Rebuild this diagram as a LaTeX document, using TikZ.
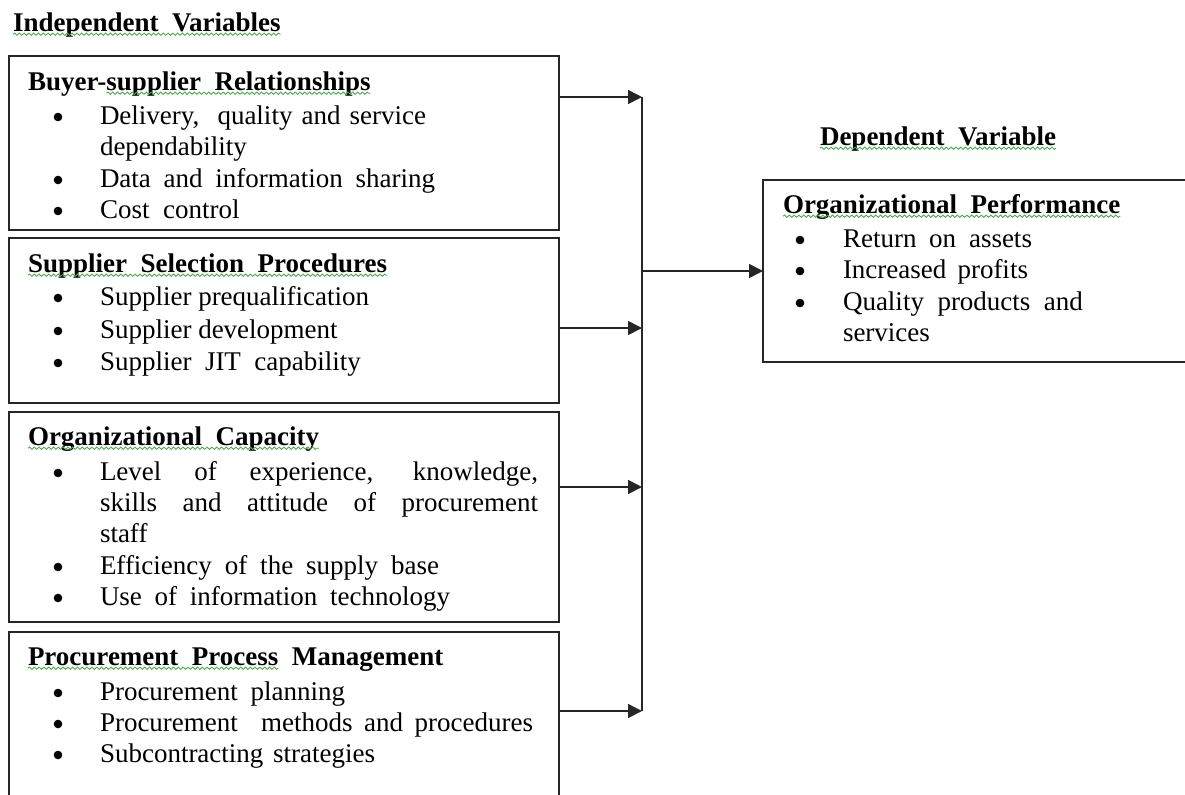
\documentclass[tikz,border=0pt]{standalone}
\usepackage{fontspec}
\setmainfont{Liberation Serif}
\usetikzlibrary{arrows.meta,decorations.pathmorphing}
\newcommand\basefont{\fontsize{13.5pt}{16pt}\selectfont}
% a line of text spread to a given width
\newcommand\spread[2]{\makebox[#1][s]{#2}}
\definecolor{squiggreen}{RGB}{76,170,80}
\begin{document}
\begin{tikzpicture}[x=0.5pt,y=-0.5pt,
  every node/.style={inner sep=0pt, outer sep=0pt, font=\basefont},
  varbox/.style={draw=black!85, line width=0.95pt, anchor=north west, rectangle},
  head/.style={anchor=base west, font=\basefont\bfseries},
  txt/.style={anchor=base west},
  bul/.style={circle, fill=black, minimum size=4.3pt},
  link/.style={draw=black!85, line width=0.8pt},
  arrowlink/.style={link, -{Triangle[length=7pt,width=7pt]}},
  squig/.style={draw=squiggreen, line width=0.45pt, decorate,
    decoration={snake, amplitude=0.55pt, segment length=2.4pt}}
]
\useasboundingbox (0,0) rectangle (1185,794);
\clip (0,0) rectangle (1185,794);

% ---------- column headings ----------
\node[head] (indep) at (13,31) {Independent~~Variables};
\node[head] (dep) at (820,145) {Dependent~~Variable};

% ---------- independent variable boxes ----------
\node[varbox, minimum width=275pt, minimum height=87pt]   (box1) at (9,56)  {};
\node[varbox, minimum width=275pt, minimum height=82.5pt] (box2) at (9,238) {};
\node[varbox, minimum width=275pt, minimum height=105pt]  (box3) at (9,412) {};
\node[varbox, minimum width=275pt, minimum height=90pt]   (box4) at (9,632) {};

% ---------- dependent variable box ----------
\node[varbox, minimum width=220pt, minimum height=91pt] (perf) at (763,180) {};

% Buyer-supplier relationships
\node[head] (h1a) at (28,90) {Buyer-};
\node[head, anchor=base west] (h1b) at (h1a.base east) {supplier~~Relationships};
\node[bul] (d11) at (58,117) {};
\node[txt] (t11) at (100,124) {\spread{163pt}{Delivery,~~quality and service}};
\node[txt] (t11b) at (100,155) {dependability};
\node[bul] (d12) at (58,180) {};
\node[txt] (t12) at (100,187) {\spread{167.5pt}{Data and information sharing}};
\node[bul] (d13) at (58,211) {};
\node[txt] (t13) at (100,218) {Cost~~control};

% Supplier selection procedures
\node[head] (h2) at (28,272) {Supplier~~Selection~~Procedures};
\node[bul] (d21) at (58,298) {};
\node[txt] (t21) at (100,305) {Supplier prequalification};
\node[bul] (d22) at (58,331) {};
\node[txt] (t22) at (100,338) {Supplier development};
\node[bul] (d23) at (58,363) {};
\node[txt] (t23) at (100,370) {Supplier~~JIT~~capability};

% Organizational capacity
\node[head] (h3) at (28,445) {Organizational~~Capacity};
\node[bul] (d31) at (58,473) {};
\node[txt] (t31) at (100,480) {\spread{219pt}{Level of experience, knowledge,}};
\node[txt] (t31b) at (100,511) {\spread{219pt}{skills and attitude of procurement}};
\node[txt] (t31c) at (100,542) {staff};
\node[bul] (d32) at (58,567) {};
\node[txt] (t32) at (100,574) {\spread{169.5pt}{Efficiency of the supply base}};
\node[bul] (d33) at (58,598) {};
\node[txt] (t33) at (100,605) {\spread{175pt}{Use of information technology}};

% Procurement process management
\node[head] (h4a) at (28,665) {Procurement~~Process};
\node[head, anchor=base west] (h4b) at (h4a.base east) {~~Management};
\node[bul] (d41) at (58,693) {};
\node[txt] (t41) at (100,700) {\spread{122.5pt}{Procurement planning}};
\node[bul] (d42) at (58,724) {};
\node[txt] (t42) at (100,731) {\spread{216.5pt}{Procurement~~methods and procedures}};
\node[bul] (d43) at (58,755) {};
\node[txt] (t43) at (100,762) {\spread{137.5pt}{Subcontracting strategies}};

% Organizational performance
\node[head] (h5) at (783,213) {Organizational~~Performance};
\node[bul] (d51) at (800,240) {};
\node[txt] (t51) at (843,247) {\spread{94.5pt}{Return on assets}};
\node[bul] (d52) at (800,271) {};
\node[txt] (t52) at (843,278) {\spread{92.5pt}{Increased profits}};
\node[bul] (d53) at (800,303) {};
\node[txt] (t53) at (843,310) {Quality~~products~~and};
\node[txt] (t53b) at (843,341) {services};

% ---------- spelling squiggles under the headings ----------
\draw[squig] ([yshift=-1.6pt]indep.base west) -- ([yshift=-1.6pt]indep.base east);
\draw[squig] ([yshift=-1.6pt]dep.base west) -- ([yshift=-1.6pt]dep.base east);
\draw[squig] ([yshift=-1.6pt]h1b.base west) -- ([yshift=-1.6pt]h1b.base east);
\draw[squig] ([yshift=-1.6pt]h2.base west) -- ([yshift=-1.6pt]h2.base east);
\draw[squig] ([yshift=-1.6pt]h3.base west) -- ([yshift=-1.6pt]h3.base east);
\draw[squig] ([yshift=-1.6pt]h4a.base west) -- ([yshift=-1.6pt]h4a.base east);
\draw[squig] ([yshift=-1.6pt]h5.base west) -- ([yshift=-1.6pt]h5.base east);

% ---------- connectors ----------
\coordinate (in1) at (642,97);
\coordinate (in2) at (642,328);
\coordinate (in3) at (642,487);
\coordinate (in4) at (642,711);
\coordinate (out) at (642,271);

\draw[link] (in1) -- (in4);
\draw[arrowlink] (box1.east |- in1) -- (in1);
\draw[arrowlink] (box2.east |- in2) -- (in2);
\draw[arrowlink] (box3.east |- in3) -- (in3);
\draw[arrowlink] (box4.east |- in4) -- (in4);
\draw[arrowlink] (out) -- (perf.west |- out);
\end{tikzpicture}
\end{document}
